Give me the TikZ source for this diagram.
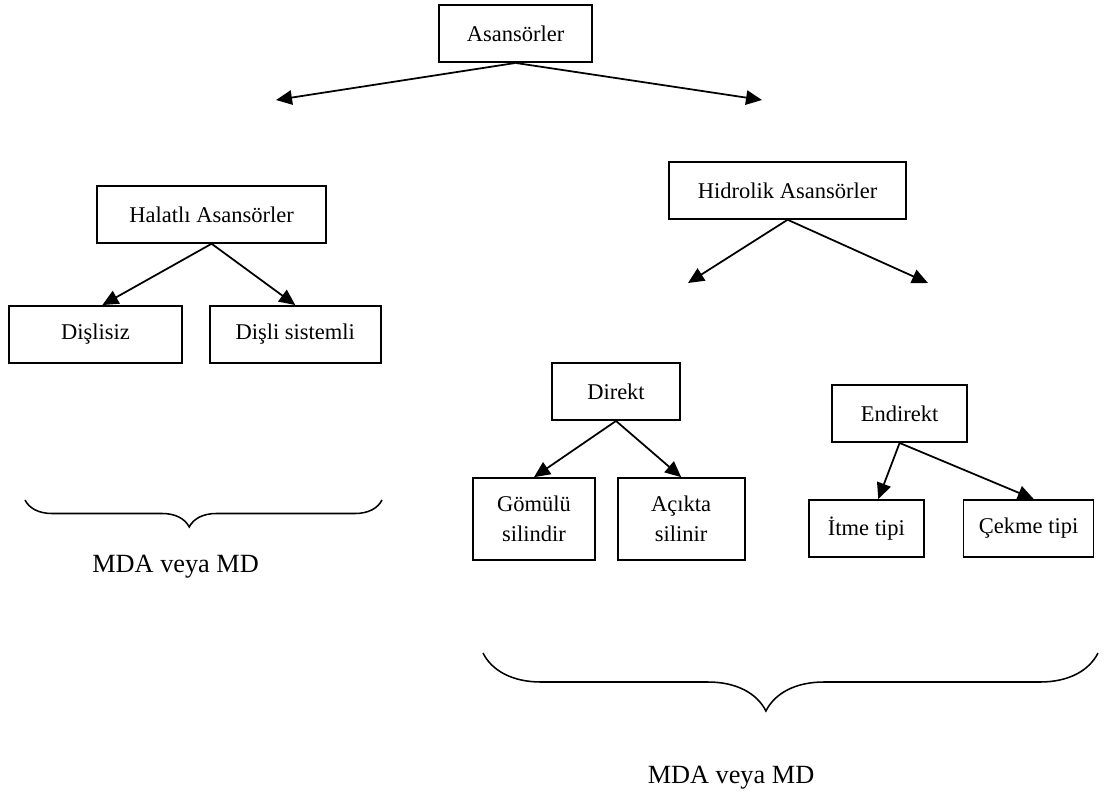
\documentclass[tikz,border=0pt]{standalone}
\usepackage{fontspec}
\setmainfont{Liberation Serif}
\usetikzlibrary{arrows.meta, positioning, decorations.pathreplacing}

\begin{document}
\begin{tikzpicture}[font=\fontsize{16}{21}\selectfont,
		box/.style={draw, line width=1.2pt, inner sep=1pt, align=center, minimum height=1.425cm},
		tall/.style={box, minimum height=2.05cm},
		arr/.style={-{Triangle[length=0.4cm, width=0.36cm]}, line width=1.25pt},
		curly/.style={decorate, decoration={brace, mirror, aspect=0.46, amplitude=#1}, line width=1.1pt},
		note/.style={font=\fontsize{18.7}{22}\selectfont, anchor=base, inner sep=0pt}]
	\useasboundingbox (0,0) rectangle (27.75,-19.775);
	\node[box, minimum width=3.825cm] (lifts) at (12.89,-0.84) {Asansörler};
	\coordinate (leftend) at (6.9,-2.5);
	\coordinate (rightend) at (19.05,-2.5);
	\node[box, minimum width=5.725cm] (ropes) at (5.29,-5.36) {Halatlı Asansörler};
	\node[box, minimum width=4.325cm] (gearless) at (2.39,-8.36) {Dişlisiz};
	\node[box, minimum width=4.275cm, right=0.65cm of gearless] (geared) {Dişli sistemli};
	\node[box, minimum width=5.925cm] (hydraulic) at (19.69,-4.76) {Hidrolik Asansörler};
	\coordinate (hleft) at (17.2,-7.075);
	\coordinate (hright) at (23.2,-7.075);
	\node[box, minimum width=3.2cm] (direct) at (15.4,-9.79) {Direkt};
	\node[box, minimum width=3.375cm] (indirect) at (22.49,-10.34) {Endirekt};
	\node[tall, minimum width=3.05cm] (buried) at (13.35,-12.975) {Gömülü\\silindir};
	\node[tall, minimum width=3.175cm, right=0.525cm of buried] (open) {Açıkta\\silinir};
	\node[box, minimum width=2.875cm] (push) at (21.66,-13.21) {İtme tipi};
	\node[box, minimum width=3.25cm, right=0.95cm of push] (pull) {Çekme tipi};
	\foreach \n in {leftend, rightend}
	\draw[arr] (lifts.south) -- (\n);
	\draw[arr] (ropes.south) -- (gearless.77);
	\draw[arr] (ropes.south) -- (geared.north);
	\foreach \n in {hleft, hright}
	\draw[arr] (hydraulic.south) -- (\n);
	\foreach \n in {buried, open}
	\draw[arr] (direct.south) -- (\n.north);
	\draw[arr] (indirect.south) -- (push.68);
	\draw[arr] (indirect.south) -- (pull.80);
	\coordinate (lb1) at (0.625,-12.5);
	\coordinate (lb2) at (9.55,-12.5);
	\draw[curly=0.675cm] (lb1) -- (lb2);
	\node[note] (leftnote) at (4.39,-14.3) {MDA veya MD};
	\coordinate (rb1) at (12.075,-16.325);
	\coordinate (rb2) at (27.45,-16.325);
	\draw[curly=1.45cm] (rb1) -- (rb2);
	\node[note] (rightnote) at (18.275,-19.575) {MDA veya MD};
\end{tikzpicture}
\end{document}
